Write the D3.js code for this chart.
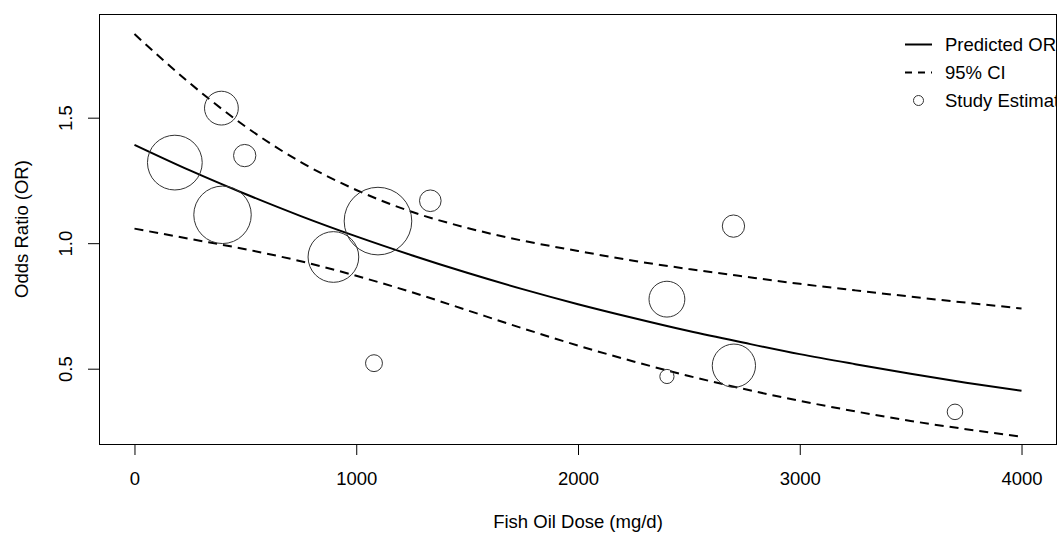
<!DOCTYPE html>
<html>
<head>
<meta charset="utf-8">
<script src="https://cdn.jsdelivr.net/npm/d3@7"></script>
<style>
  body { margin: 0; background: #fff; }
  text { font-family: "Liberation Sans", Arial, sans-serif; fill: #000; }
</style>
</head>
<body>
<div id="chart"></div>
<script>
// fitted curve, every 250 mg/d
var doses = [0, 250, 500, 750, 1000, 1250, 1500, 1750, 2000, 2250, 2500, 2750, 3000, 3250, 3500, 3750, 4000];
var predictedOR = [1.392, 1.290, 1.196, 1.108, 1.027, 0.952, 0.882, 0.817, 0.757, 0.702, 0.650, 0.603, 0.558, 0.518, 0.480, 0.444, 0.412];
var upperCI = [1.833, 1.637, 1.465, 1.323, 1.212, 1.125, 1.061, 1.010, 0.969, 0.930, 0.897, 0.867, 0.838, 0.812, 0.787, 0.763, 0.740];
var lowerCI = [1.058, 1.017, 0.976, 0.928, 0.870, 0.805, 0.733, 0.661, 0.592, 0.529, 0.471, 0.419, 0.372, 0.330, 0.292, 0.259, 0.229];

// study estimates (dose, OR, relative weight)
var studyDose = [182, 392, 497, 397, 897, 1098, 1334, 1080, 2701, 2401, 2401, 2703, 3700];
var studyOR = [1.321, 1.538, 1.349, 1.113, 0.945, 1.088, 1.169, 0.522, 1.068, 0.777, 0.469, 0.512, 0.328];
var studyWeight = [81, 50, 33, 85, 75, 100, 32, 25, 33, 53, 21, 64, 23];

var xTicks = [0, 1000, 2000, 3000, 4000];
var yTicks = [0.5, 1.0, 1.5];
var legendLabels = ["Predicted OR", "95% CI", "Study Estimate"];

var W = 1060, H = 535;
var mLeft = 99, mRight = 1057, mTop = 14, mBottom = 444;
var fontSize = "18.5px";

var svg = d3.select("#chart").append("svg")
	.attr("width", W).attr("height", H);

svg.append("rect").attr("width", W).attr("height", H).attr("fill", "#fff");

var x = d3.scaleLinear().domain([-160, 4160]).range([mLeft, mRight]);
var y = d3.scaleLinear().domain([0.2, 1.913]).range([mBottom, mTop]);
var r = d3.scaleLinear().domain([0, 100]).range([0, 33.8]);

svg.append("defs").append("clipPath").attr("id", "plotclip")
	.append("rect")
	.attr("x", mLeft).attr("y", mTop)
	.attr("width", mRight - mLeft).attr("height", mBottom - mTop);

var plot = svg.append("g").attr("clip-path", "url(#plotclip)");

function curvePath(vals){
	return d3.line()
		.x(function(d, i){ return x(doses[i]); })
		.y(function(d){ return y(d); })
		.curve(d3.curveMonotoneX)(vals);
}

plot.append("path")
	.attr("d", curvePath(predictedOR))
	.attr("fill", "none").attr("stroke", "#000").attr("stroke-width", 2);

[upperCI, lowerCI].forEach(function(vals){
	plot.append("path")
		.attr("d", curvePath(vals))
		.attr("fill", "none").attr("stroke", "#000").attr("stroke-width", 2)
		.attr("stroke-dasharray", "9,6");
});

plot.selectAll("circle.study")
	.data(studyDose).enter()
	.append("circle")
	.attr("class", "study")
	.attr("cx", function(d){ return x(d); })
	.attr("cy", function(d, i){ return y(studyOR[i]); })
	.attr("r", function(d, i){ return r(studyWeight[i]); })
	.attr("fill", "none").attr("stroke", "#333").attr("stroke-width", 1);

// legend (top right, clipped by the plot region like the original)
var leg = plot.append("g");
var rowY = [44.5, 72.5, 100.5];
legendLabels.forEach(function(lab, i){
	if(i < 2){
		leg.append("line")
			.attr("x1", 905).attr("x2", 932)
			.attr("y1", rowY[i]).attr("y2", rowY[i])
			.attr("stroke", "#000").attr("stroke-width", 2)
			.attr("stroke-dasharray", i == 1 ? "7,6" : null);
	} else {
		leg.append("circle")
			.attr("cx", 918.5).attr("cy", rowY[i]).attr("r", 5)
			.attr("fill", "none").attr("stroke", "#333");
	}
	leg.append("text")
		.attr("x", 945).attr("y", rowY[i] + 6.5)
		.attr("font-size", fontSize)
		.text(lab);
});

// axes
var xAxis = svg.append("g")
	.attr("transform", "translate(0," + mBottom + ")")
	.call(d3.axisBottom(x).tickValues(xTicks).tickSize(11).tickFormat(d3.format("d")));
xAxis.select(".domain").remove();
xAxis.selectAll("text")
	.attr("y", 41).attr("dy", null)
	.attr("font-size", fontSize);

var yAxis = svg.append("g")
	.attr("transform", "translate(" + mLeft + ",0)")
	.call(d3.axisLeft(y).tickValues(yTicks).tickSize(11).tickFormat(d3.format(".1f")));
yAxis.select(".domain").remove();
yAxis.selectAll("text")
	.attr("x", null).attr("dy", null)
	.attr("text-anchor", "middle")
	.attr("transform", "translate(-27,0) rotate(-90)")
	.attr("font-size", fontSize);

svg.selectAll(".tick line").attr("stroke", "#000");
svg.selectAll(".tick text").attr("fill", "#000").style("font-family", "'Liberation Sans', Arial, sans-serif");

// box
svg.append("rect")
	.attr("x", mLeft + 0.5).attr("y", mTop + 0.5)
	.attr("width", mRight - mLeft - 1).attr("height", mBottom - mTop)
	.attr("fill", "none").attr("stroke", "#000");

// axis titles
svg.append("text")
	.attr("x", (mLeft + mRight) / 2).attr("y", 528)
	.attr("text-anchor", "middle").attr("font-size", fontSize)
	.text("Fish Oil Dose (mg/d)");

svg.append("text")
	.attr("transform", "translate(28," + ((mTop + mBottom) / 2) + ") rotate(-90)")
	.attr("text-anchor", "middle").attr("font-size", fontSize)
	.text("Odds Ratio (OR)");
</script>
</body>
</html>
